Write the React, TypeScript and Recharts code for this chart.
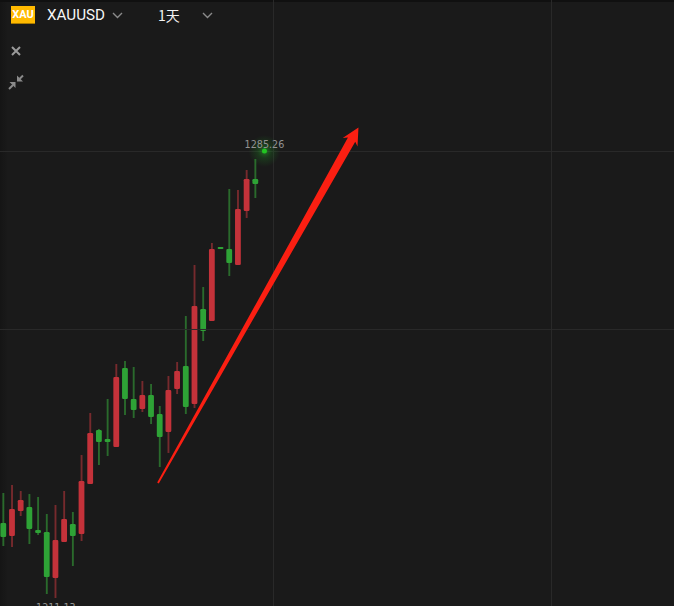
import React from "react";
import { ComposedChart, Bar, Cell, XAxis, YAxis, ReferenceLine, ReferenceDot } from "recharts";

const opens = [1223.57, 1221.41, 1225.56, 1226.22, 1222.4, 1222.07, 1214.44, 1220.41, 1223.4, 1221.74, 1230.03, 1238.99, 1237.5, 1236.17, 1249.27, 1244.13, 1242.47, 1244.79, 1241.64, 1238.66, 1245.79, 1249.6, 1243.3, 1259.06, 1257.07, 1269.34, 1269.01, 1266.35, 1275.31, 1280.61];
const closes = [1221.24, 1225.89, 1227.38, 1222.57, 1221.91, 1214.61, 1220.75, 1224.23, 1221.41, 1230.53, 1238.49, 1237.0, 1237.0, 1247.78, 1244.13, 1242.31, 1244.79, 1241.15, 1237.83, 1245.62, 1248.77, 1242.8, 1259.55, 1255.41, 1269.01, 1269.01, 1266.68, 1275.64, 1280.61, 1279.79];
const highs = [1228.54, 1229.87, 1228.87, 1228.37, 1227.88, 1225.06, 1226.55, 1228.87, 1225.39, 1234.84, 1241.81, 1239.15, 1244.13, 1249.93, 1250.43, 1249.44, 1247.12, 1246.62, 1242.97, 1247.94, 1250.27, 1257.89, 1266.35, 1262.7, 1270.0, 1269.34, 1278.96, 1278.79, 1282.11, 1283.93];
const lows = [1219.75, 1219.59, 1224.73, 1220.08, 1221.58, 1211.79, 1211.13, 1220.41, 1216.43, 1220.58, 1230.03, 1233.18, 1234.68, 1236.17, 1241.48, 1240.98, 1241.97, 1239.98, 1232.85, 1235.18, 1244.96, 1241.64, 1242.64, 1253.75, 1257.07, 1269.01, 1264.53, 1266.35, 1274.15, 1277.46];

const symbol = "XAUUSD";
const logoText = "XAU";
const period = "1天";
const highLabel = { index: 30, price: 1285.26, text: "1285.26" };
const lowLabel = { index: 6, price: 1211.13, text: "1211.13" };
const gridPrices = [1285.18, 1255.66];
const gridIndexes = [31.04, 63.03];
const arrowFrom = { x: 17.75, y: 1230.2 };
const arrowTo = { x: 40.82, y: 1289.16 };

const candles = opens.map((o, i) => ({
  i,
  body: [Math.min(o, closes[i]), Math.max(o, closes[i])],
  wick: [lows[i], highs[i]],
  up: closes[i] > o,
}));

const W = 674;
const H = 606;
const BODY_RED = "#c4323a";
const BODY_GREEN = "#2ea336";
const WICK_RED = "#762a2d";
const WICK_GREEN = "#2a6a2c";

function Arrow(props: any) {
  const { x1, y1, x2, y2 } = props;
  const dx = x2 - x1;
  const dy = y2 - y1;
  const len = Math.hypot(dx, dy);
  const ux = dx / len;
  const uy = dy / len;
  const nx = -uy;
  const ny = ux;
  const at = (back: number, side: number) => `${x2 - ux * back + nx * side},${y2 - uy * back + ny * side}`;
  const pts = [
    at(0, 0),
    at(17, 8.5),
    at(14, 4.2),
    at(len, 0.9),
    at(len, -0.9),
    at(14, -4.2),
    at(17, -8.5),
  ].join(" ");
  return <polygon points={pts} fill="#fb1f12" />;
}

function HighDot(props: any) {
  const { cx, cy } = props;
  return (
    <g>
      <defs>
        <radialGradient id="glow">
          <stop offset="0%" stopColor="#2fd02f" stopOpacity={0.5} />
          <stop offset="45%" stopColor="#1f9a24" stopOpacity={0.22} />
          <stop offset="100%" stopColor="#1f9a24" stopOpacity={0} />
        </radialGradient>
      </defs>
      <circle cx={cx} cy={cy} r={16} fill="url(#glow)" />
      <circle cx={cx} cy={cy} r={2.5} fill="#22c422" />
      <text x={cx} y={cy - 3} textAnchor="middle" fontFamily="DejaVu Sans" fontSize={9.6} fill="#929292">
        {highLabel.text}
      </text>
    </g>
  );
}

function LowDot(props: any) {
  const { cx, cy } = props;
  return (
    <text x={cx} y={cy + 13} textAnchor="middle" fontFamily="DejaVu Sans" fontSize={9.6} fill="#929292">
      {lowLabel.text}
    </text>
  );
}

const Chevron = ({ x }: { x: number }) => (
  <svg style={{ position: "absolute", left: x, top: 11, overflow: "visible" }} width={12} height={8}>
    <polyline points="1,2 5.5,6.5 10,2" fill="none" stroke="#8a8a8a" strokeWidth={1.4} />
  </svg>
);

export default function App() {
  return (
    <div style={{ position: "absolute", left: 0, top: 0, width: W, height: H, background: "#1a1a1a", overflow: "hidden" }}>
      <div style={{ position: "absolute", left: 0, top: 0, width: 8, height: H, background: "linear-gradient(90deg,#151515,#1a1a1a)" }} />
      <div style={{ position: "absolute", left: 0, top: 0, width: W, height: 2, background: "#101010" }} />
      <ComposedChart
        width={W}
        height={H}
        data={candles}
        margin={{ top: 0, right: 0, bottom: 0, left: 0 }}
        style={{ position: "absolute", left: 0, top: 0 }}
      >
        <XAxis xAxisId="w" dataKey="i" type="number" domain={[-0.43, 77.13]} hide allowDataOverflow />
        <XAxis xAxisId="b" dataKey="i" type="number" domain={[-0.43, 77.13]} hide allowDataOverflow />
        <YAxis yAxisId="p" type="number" domain={[1209.8, 1310.3]} hide allowDataOverflow />
        {gridPrices.map((p) => (
          <ReferenceLine key={p} xAxisId="w" yAxisId="p" y={p} stroke="#2b2b2b" strokeWidth={1} />
        ))}
        {gridIndexes.map((i) => (
          <ReferenceLine key={i} xAxisId="w" yAxisId="p" x={i} stroke="#2b2b2b" strokeWidth={1} />
        ))}
        <Bar xAxisId="w" yAxisId="p" dataKey="wick" barSize={1.9} isAnimationActive={false}>
          {candles.map((c) => (
            <Cell key={c.i} fill={c.up ? WICK_RED : WICK_GREEN} />
          ))}
        </Bar>
        <Bar xAxisId="b" yAxisId="p" dataKey="body" barSize={5.8} radius={1.2} isAnimationActive={false}>
          {candles.map((c) => (
            <Cell key={c.i} fill={c.up ? BODY_RED : BODY_GREEN} />
          ))}
        </Bar>
        <ReferenceDot xAxisId="w" yAxisId="p" x={highLabel.index} y={highLabel.price} shape={HighDot} />
        <ReferenceDot xAxisId="w" yAxisId="p" x={lowLabel.index} y={lowLabel.price} shape={LowDot} />
        <ReferenceLine xAxisId="w" yAxisId="p" segment={[arrowFrom, arrowTo]} shape={Arrow} ifOverflow="visible" />
      </ComposedChart>

      <div style={{ position: "absolute", left: 11, top: 6, width: 24, height: 18, background: "#ffb900", borderBottom: "1px solid #a87a00", boxSizing: "border-box", color: "#fff", fontFamily: "Roboto", fontWeight: 700, fontSize: 11, lineHeight: "17px", textAlign: "center" }}>
        {logoText}
      </div>
      <div style={{ position: "absolute", left: 47, top: 6, color: "#f6f6f6", fontFamily: "Roboto", fontSize: 15.2, lineHeight: "19px", whiteSpace: "nowrap" }}>
        {symbol}
      </div>
      <Chevron x={112} />
      <div style={{ position: "absolute", left: 158, top: 6, color: "#f2f2f2", fontFamily: "Noto Sans CJK SC", fontSize: 14, lineHeight: "19px", whiteSpace: "nowrap" }}>
        {period}
      </div>
      <Chevron x={202} />
      <svg style={{ position: "absolute", left: 0, top: 0 }} width={40} height={100}>
        <path d="M12 47 L20 55 M20 47 L12 55" stroke="#9a9a9a" strokeWidth={2} fill="none" />
        <polygon points="15.5,82 15.5,88 9.5,82" fill="#8a8a8a" />
        <path d="M13 85 L9 89" stroke="#8a8a8a" strokeWidth={2} fill="none" />
        <polygon points="17,81.5 17,75.5 23,81.5" fill="#8a8a8a" />
        <path d="M19.5 79 L23 75.5" stroke="#8a8a8a" strokeWidth={2} fill="none" />
      </svg>
    </div>
  );
}
